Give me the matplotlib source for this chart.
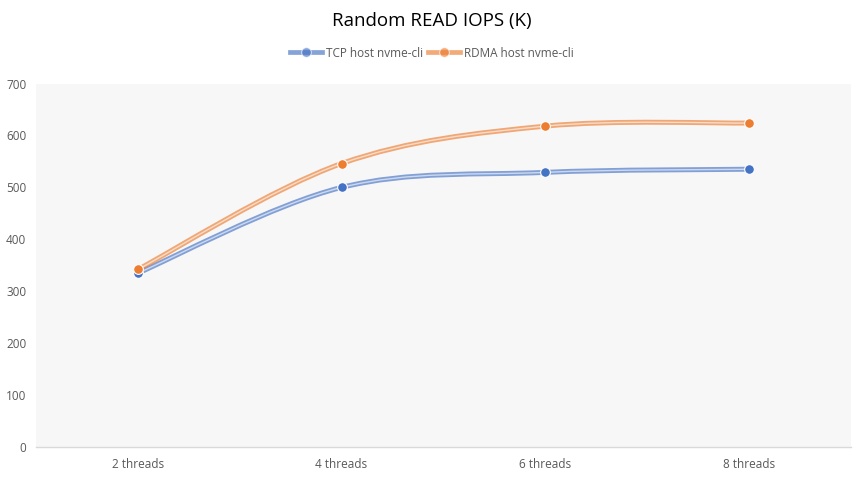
import matplotlib
matplotlib.use("Agg")
import matplotlib.pyplot as plt
from matplotlib.path import Path
from matplotlib.patches import PathPatch
from matplotlib.lines import Line2D
import numpy as np

categories = ["2 threads", "4 threads", "6 threads", "8 threads"]
tcp = [335, 500, 529, 535]
rdma = [342, 546, 618, 624]
series_names = ["TCP host nvme-cli", "RDMA host nvme-cli"]
colors = ["#4472C4", "#ED7D31"]
yticks = [0, 100, 200, 300, 400, 500, 600, 700]

plt.rcParams['font.family'] = ['Open Sans', 'DejaVu Sans']

fig = plt.figure(figsize=(8.64, 4.82), dpi=100)
ax = fig.add_axes([0.0417, 0.0726, 0.943, 0.754])
ax.set_facecolor("#F7F7F7")

x = np.arange(len(categories))

def smooth_path(xs, ys):
    pts = np.column_stack([xs, ys]).astype(float)
    n = len(pts)
    verts = [pts[0]]
    codes = [Path.MOVETO]
    for i in range(n - 1):
        p0 = pts[i - 1] if i > 0 else pts[i]
        p1 = pts[i]
        p2 = pts[i + 1]
        p3 = pts[i + 2] if i + 2 < n else pts[i + 1]
        c1 = p1 + (p2 - p0) / 6.0
        c2 = p2 - (p3 - p1) / 6.0
        verts += [c1, c2, p2]
        codes += [Path.CURVE4] * 3
    return Path(verts, codes)

for vals, col in zip([tcp, rdma], colors):
    path = smooth_path(x, vals)
    ax.add_patch(PathPatch(path, facecolor="none", edgecolor=col, lw=3.6, alpha=0.65, zorder=3, capstyle="round"))
    ax.add_patch(PathPatch(path, facecolor="none", edgecolor="white", lw=1.0, alpha=0.6, zorder=4))
    ax.plot(x, vals, linestyle="none", marker="o", markersize=7, color=col,
            markeredgecolor="white", markeredgewidth=0.8, zorder=5)

ax.set_xlim(-0.5, len(categories) - 0.5)
ax.set_ylim(0, 700)
ax.set_yticks(yticks)
ax.set_xticks(x)
ax.set_xticklabels(categories)
for s in ["top", "right", "left"]:
    ax.spines[s].set_visible(False)
ax.spines["bottom"].set_color("#D9D9D9")
ax.spines["bottom"].set_linewidth(1.0)
ax.tick_params(axis="both", length=0, labelsize=8.5, labelcolor="#595959")
ax.tick_params(axis="x", pad=8)
ax.tick_params(axis="y", pad=7)

fig.text(0.5, 0.956, "Random READ IOPS (K)", ha="center", va="center", fontsize=13.5, color="#000000")

handles = []
for name, col in zip(series_names, colors):
    h = Line2D([0], [0], color=col, lw=3.4, alpha=0.65, marker="o", markersize=7,
               markerfacecolor=col, markeredgecolor="white", markeredgewidth=0.8)
    handles.append(h)
fig.legend(handles, series_names, loc="center", bbox_to_anchor=(0.5, 0.89), ncol=2,
           frameon=False, fontsize=8.5, handlelength=2.7, columnspacing=0.4, handletextpad=0.35,
           labelcolor="#595959")

fig.savefig("out.png", dpi=100, facecolor="white")
